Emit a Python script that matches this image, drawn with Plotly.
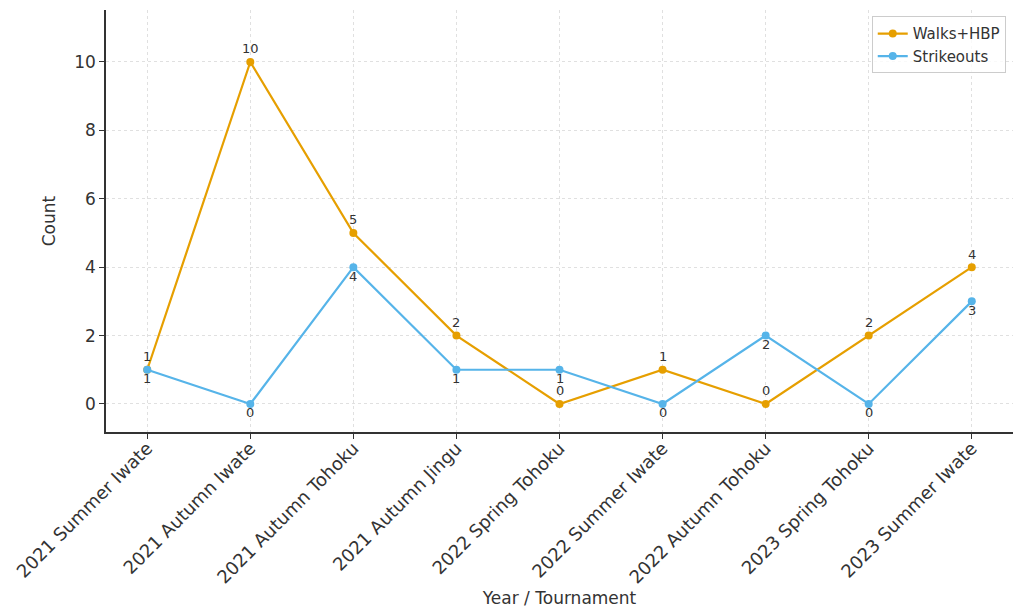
import plotly.graph_objects as go

categories = ["2021 Summer Iwate", "2021 Autumn Iwate", "2021 Autumn Tohoku", "2021 Autumn Jingu",
              "2022 Spring Tohoku", "2022 Summer Iwate", "2022 Autumn Tohoku", "2023 Spring Tohoku",
              "2023 Summer Iwate"]
walks_hbp = [1, 10, 5, 2, 0, 1, 0, 2, 4]
strikeouts = [1, 0, 4, 1, 1, 0, 2, 0, 3]

font = "DejaVu Sans, Arial, sans-serif"
fig = go.Figure()
fig.add_trace(go.Scatter(
    x=categories, y=walks_hbp, name="Walks+HBP", mode="lines+markers",
    line=dict(color="#E69F00", width=2.2), marker=dict(size=8, color="#E69F00")))
fig.add_trace(go.Scatter(
    x=categories, y=strikeouts, name="Strikeouts", mode="lines+markers",
    line=dict(color="#56B4E9", width=2.2), marker=dict(size=8, color="#56B4E9")))

for c, v in zip(categories, walks_hbp):
    fig.add_annotation(x=c, y=v, text=str(v), showarrow=False, yshift=13,
                       font=dict(size=13, color="#333333", family=font))
for c, v in zip(categories, strikeouts):
    fig.add_annotation(x=c, y=v, text=str(v), showarrow=False, yshift=-9,
                       font=dict(size=13, color="#333333", family=font))

fig.update_layout(
    width=1024, height=613, plot_bgcolor="white", paper_bgcolor="white",
    margin=dict(l=106, r=11, t=10, b=181),
    font=dict(family=font, size=17, color="#333333"),
    legend=dict(x=0.992, y=0.985, xanchor="right", yanchor="top",
                bgcolor="rgba(255,255,255,0.8)", bordercolor="#cccccc", borderwidth=1,
                font=dict(size=15)),
    xaxis=dict(title=dict(text="Year / Tournament", font=dict(size=17), standoff=0), tickangle=-45,
               automargin=False, ticklabelstandoff=-8,
               range=[-0.4, 8.4], showgrid=True, gridcolor="#e0e0e0", griddash="3px,3px",
               showline=True, linecolor="#333333", linewidth=1.5, ticks="outside",
               ticklen=5, tickcolor="#333333", tickfont=dict(size=18), mirror=False),
    yaxis=dict(title=dict(text="Count", font=dict(size=17), standoff=14), range=[-0.82, 11.52],
               automargin=False,
               tickvals=[0, 2, 4, 6, 8, 10], showgrid=True, gridcolor="#e0e0e0",
               griddash="3px,3px", showline=True, linecolor="#333333", linewidth=1.5,
               ticks="outside", ticklen=5, tickcolor="#333333", tickfont=dict(size=17),
               zeroline=False),
)
fig.write_html("out.html")
